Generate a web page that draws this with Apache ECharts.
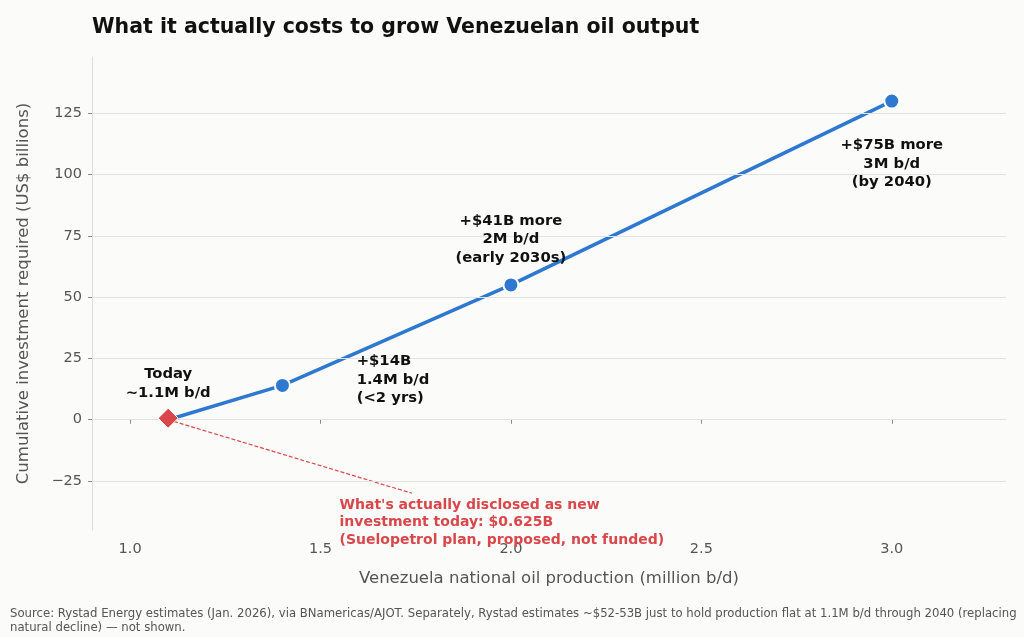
<!DOCTYPE html>
<html>
<head>
<meta charset="utf-8">
<script src="https://cdn.jsdelivr.net/npm/echarts@6/dist/echarts.min.js"></script>
<style>
	html, body { margin: 0; padding: 0; background: #fbfbf9; }
	#main { width: 1024px; height: 637px; }
</style>
</head>
<body>
<div id="main"></div>
<script type="text/javascript">
	// production (million b/d) vs cumulative investment (US$ billions)
	var production = [1.1, 1.4, 2.0, 3.0];
	var investment = [0, 14, 55, 130];
	var todayPoint = [1.1, 0.625];
	var yTicks = [-25, 0, 25, 50, 75, 100, 125];
	var xTicks = [1.0, 1.5, 2.0, 2.5, 3.0];

	// dashed pointer from "today" to the disclosed-investment note
	var pointerX = [1.1, 1.74];
	var pointerY = [0, -30];

	var notes = [
		{ x: 1.1, y: 14.7, text: 'Today\n~1.1M b/d', align: 'center' },
		{ x: 1.595, y: 16.3, text: '+$14B\n1.4M b/d\n(<2 yrs)', align: 'left' },
		{ x: 2.0, y: 73.5, text: '+$41B more\n2M b/d\n(early 2030s)', align: 'center' },
		{ x: 3.0, y: 104.4, text: '+$75B more\n3M b/d\n(by 2040)', align: 'center' }
	];
	var redNote = { x: 1.55, y: -42, text: "What's actually disclosed as new\ninvestment today: $0.625B\n(Suelopetrol plan, proposed, not funded)" };

	var FONT = 'DejaVu Sans';
	var chart = echarts.init(document.getElementById('main'));

	var lineData = production.map(function (p, i) { return [p, investment[i]]; });
	var noteData = notes.map(function (n) {
		return {
			value: [n.x, n.y],
			label: { formatter: n.text, align: n.align, position: n.align == 'left' ? 'right' : 'inside', distance: 0 }
		};
	});

	chart.setOption({
		backgroundColor: '#fbfbf9',
		animation: false,
		textStyle: { fontFamily: FONT },
		title: {
			text: 'What it actually costs to grow Venezuelan oil output',
			left: 87, top: 12,
			textStyle: { fontFamily: FONT, fontSize: 20.5, fontWeight: 'bold', color: '#111' }
		},
		graphic: [{
			type: 'text', left: 10, top: 607,
			style: {
				text: 'Source: Rystad Energy estimates (Jan. 2026), via BNamericas/AJOT. Separately, Rystad estimates ~$52-53B just to hold production flat at 1.1M b/d through 2040 (replacing\nnatural decline) \u2014 not shown.',
				font: '11.7px "DejaVu Sans"', fill: '#555', lineHeight: 14
			}
		}],
		grid: { left: 92, right: 18, top: 57, bottom: 107 },
		xAxis: {
			type: 'value', min: 0.9, max: 3.3,
			name: 'Venezuela national oil production (million b/d)',
			nameLocation: 'middle', nameGap: 40,
			nameTextStyle: { fontFamily: FONT, fontSize: 16.5, color: '#555' },
			axisLine: { show: true, lineStyle: { color: '#dddddd' } },
			axisTick: { show: true, customValues: xTicks, length: 4, lineStyle: { color: '#888' } },
			axisLabel: { customValues: xTicks, fontSize: 14.5, color: '#555', margin: 12,
				formatter: function (v) { return v.toFixed(1); } },
			splitLine: { show: false }
		},
		yAxis: {
			type: 'value', min: -45, max: 148,
			name: 'Cumulative investment required (US$ billions)',
			nameLocation: 'middle', nameGap: 60,
			nameTextStyle: { fontFamily: FONT, fontSize: 16.5, color: '#555' },
			axisLine: { show: true, lineStyle: { color: '#dddddd' } },
			axisTick: { show: true, customValues: yTicks, length: 4, lineStyle: { color: '#888' } },
			axisLabel: { customValues: yTicks, fontSize: 14.5, color: '#555', margin: 10,
				formatter: function (v) { return String(v).replace('-', '\u2212'); } },
			splitLine: { show: false }
		},
		series: [
			{
				// horizontal gridlines
				type: 'line', data: [], silent: true,
				markLine: {
					silent: true, symbol: 'none', label: { show: false },
					lineStyle: { color: '#e2e2e0', type: 'solid', width: 1 },
					data: yTicks.map(function (t) { return { yAxis: t }; })
				}
			},
			{
				type: 'line', data: pointerX.map(function (x, i) { return [x, pointerY[i]]; }),
				symbol: 'none', z: 3,
				lineStyle: { color: '#d9474b', width: 1.2, type: [4, 2] }
			},
			{
				type: 'line', data: lineData, symbol: 'none', z: 4,
				lineStyle: { color: '#2f78cf', width: 3.5 }
			},
			{
				type: 'scatter', data: lineData.slice(1), symbol: 'circle', symbolSize: 15, z: 5,
				itemStyle: { color: '#2f78cf', borderColor: '#fff', borderWidth: 2, opacity: 1 }
			},
			{
				type: 'scatter', data: [todayPoint], symbol: 'diamond', symbolSize: 20, z: 6,
				itemStyle: { color: '#d9474b', borderColor: '#fff', borderWidth: 1, opacity: 1 }
			},
			{
				type: 'scatter', data: noteData, symbolSize: 0, z: 7, silent: true,
				itemStyle: { opacity: 1 },
				label: { show: true, fontFamily: FONT, fontSize: 14.8, fontWeight: 'bold', color: '#111', lineHeight: 18.5 }
			},
			{
				type: 'scatter', data: [[redNote.x, redNote.y]], symbolSize: 0, z: 7, silent: true,
				itemStyle: { opacity: 1 },
				label: { show: true, position: 'right', distance: 0, align: 'left', formatter: redNote.text,
					fontFamily: FONT, fontSize: 14, fontWeight: 'bold', color: '#d9474b', lineHeight: 17.5 }
			}
		]
	});
</script>
</body>
</html>
